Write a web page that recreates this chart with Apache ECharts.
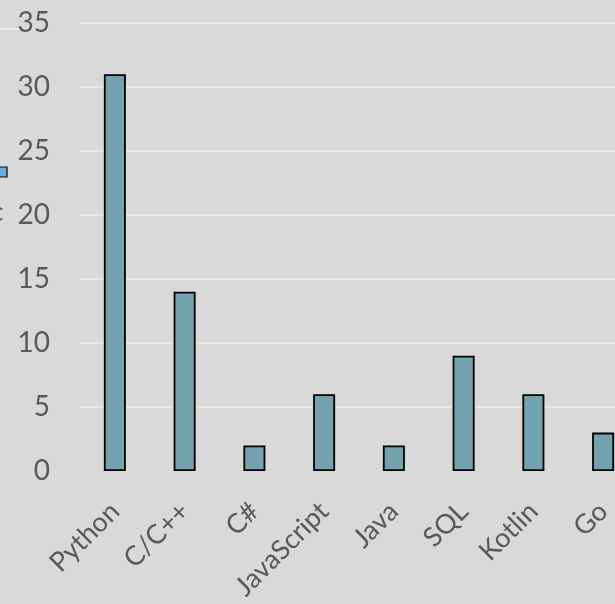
<!DOCTYPE html>
<html><head><meta charset="utf-8">
<script src="https://cdn.jsdelivr.net/npm/echarts@6/dist/echarts.min.js"></script>
<style>html,body{margin:0;padding:0;background:#d9d9d9;overflow:hidden;width:615px;height:604px;}#c{width:640px;height:604px;}</style>
</head><body><div id="c"></div>
<script>
const categories = ['Python','C/C++','C#','JavaScript','Java','SQL','Kotlin','Go'];
const values = [31,14,2,6,2,9,6,3];
const yTicks = {min:0, max:35, interval:5};

const chart = echarts.init(document.getElementById('c'));
chart.setOption({
  backgroundColor:'#d9d9d9',
  animation:false,
  graphic:[
    {type:'line', shape:{x1:0,y1:29,x2:20,y2:29}, style:{stroke:'#eeebdf', lineWidth:1.5}},
    {type:'rect', shape:{x:-2,y:167,width:9,height:10}, style:{fill:'#6fa8dc', stroke:'#000', lineWidth:1.2}},
    {type:'text', style:{x:-9,y:200,text:'c',fontSize:26,fontFamily:'Lato',fill:'#595959'}}
  ],
  grid:{left:80, top:23, width:558, height:448, containLabel:false, outerBoundsMode:'none'},
  xAxis:{type:'category', data:categories,
    axisLine:{show:false}, axisTick:{show:false},
    axisLabel:{rotate:45, margin:36, fontSize:27, fontFamily:'Lato', color:'#595959', interval:0}},
  yAxis:{type:'value', min:yTicks.min, max:yTicks.max, interval:yTicks.interval,
    axisLine:{show:false}, axisTick:{show:false},
    splitLine:{showMinLine:false, lineStyle:{color:'#eeebdf', width:1.5}},
    axisLabel:{margin:30, fontSize:28, fontFamily:'Lato', color:'#595959'}},
  series:[{type:'bar', data:values, barWidth:22,
    itemStyle:{color:'#73a3af', borderColor:'#000', borderWidth:1.8}}]
});
</script></body></html>
